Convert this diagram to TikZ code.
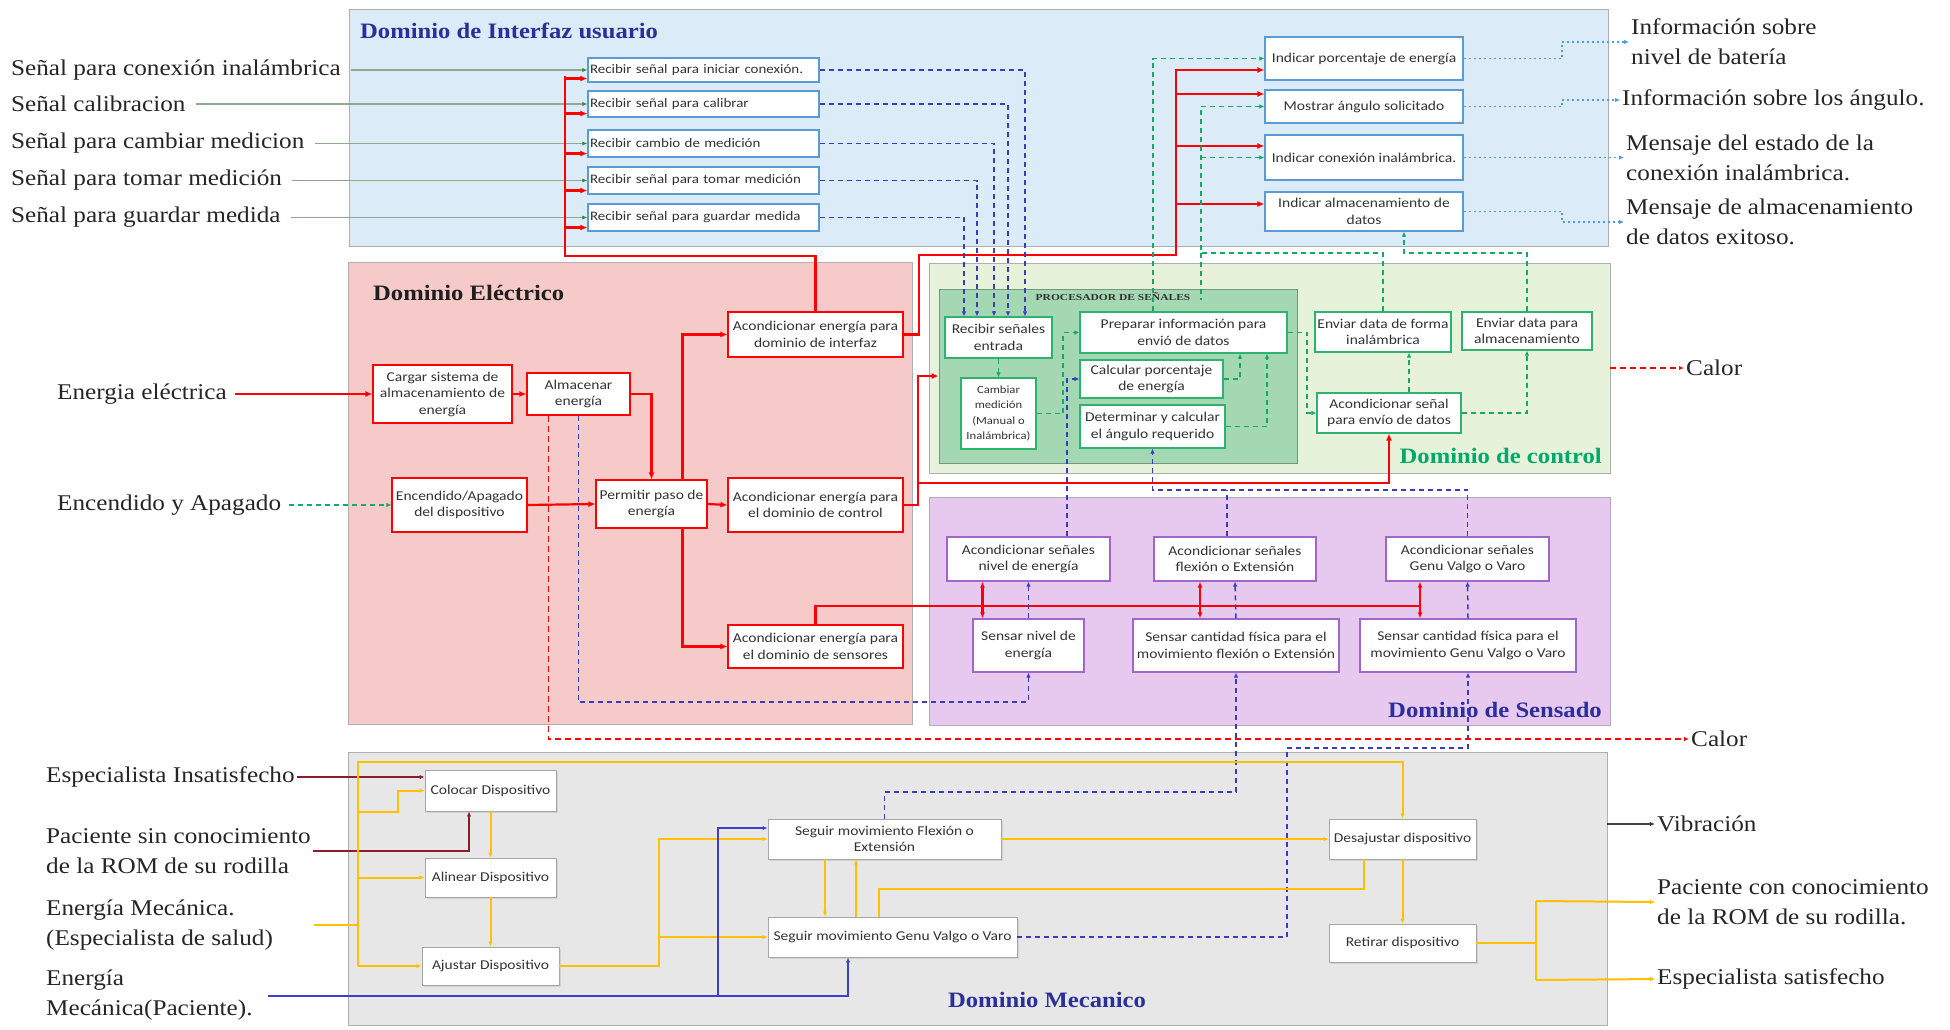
\documentclass[tikz,border=0pt]{standalone}
\usepackage{fontspec}
\setmainfont[FakeStretch=1.12]{Liberation Serif}
\newfontfamily\boxfont[FakeStretch=1.15]{Carlito}
\newfontfamily\procfont[FakeStretch=1.25]{Liberation Serif}
\usetikzlibrary{arrows.meta,shadows}
\definecolor{uifill}{HTML}{DCEBF8}
\definecolor{elfill}{HTML}{F7CACA}
\definecolor{ctfill}{HTML}{E6F2DA}
\definecolor{prfill}{HTML}{A4D8B3}
\definecolor{sefill}{HTML}{E7C9F0}
\definecolor{mefill}{HTML}{E7E7E7}
\definecolor{domline}{HTML}{AFAFAF}
\definecolor{uiblue}{HTML}{5B9BD5}
\definecolor{myred}{HTML}{FF0000}
\definecolor{ctgreen}{HTML}{2DB36E}
\definecolor{sepurple}{HTML}{A066CC}
\definecolor{megray}{HTML}{A6A6A6}
\definecolor{titblue}{HTML}{2B2F9A}
\definecolor{titgreen}{HTML}{00A86B}
\definecolor{titdark}{HTML}{1F1F1F}
\definecolor{dblue}{HTML}{3B3BBE}
\definecolor{dgreen}{HTML}{16A866}
\definecolor{lblue}{HTML}{4A9DE0}
\definecolor{myyellow}{HTML}{FFC000}
\definecolor{dred}{HTML}{8E1B2A}
\definecolor{bsolid}{HTML}{3F3FCC}
\definecolor{inlcol}{HTML}{8FA88F}
\definecolor{arrgreen}{HTML}{2E8B2E}
\definecolor{boxtext}{HTML}{333333}
\definecolor{labtext}{HTML}{262626}
\newcommand\bxfs{\boxfont\fontsize{13.5}{16.5}\selectfont}
\newcommand\uifs{\boxfont\fontsize{13}{16}\selectfont}
\newcommand\smfs{\boxfont\fontsize{11}{15.5}\selectfont}
\newcommand\labfs{\fontsize{22.5}{30}\selectfont}
\newcommand\ttlfs{\bfseries\fontsize{22}{26}\selectfont}
\newcommand\placebox[7]{%
  \pgfmathsetmacro\bxW{#5-#3}%
  \pgfmathsetmacro\bxH{#6-#4}%
  \node[#2, minimum width=\bxW pt, minimum height=\bxH pt] (#1) at ({(#3+#5)/2},{(#4+#6)/2}) {#7};}
\tikzset{
  dom/.style={draw=domline, line width=0.8pt, inner sep=0pt},
  basebox/.style={fill=white, line width=1.1pt, inner sep=1pt, font=\bxfs, text=boxtext, align=center},
  uiL/.style={basebox, draw=uiblue, font=\uifs, text width=227pt, inner xsep=2pt, align=left},
  uiR/.style={basebox, draw=uiblue},
  elb/.style={basebox, draw=myred},
  ctb/.style={basebox, draw=ctgreen},
  seb/.style={basebox, draw=sepurple},
  meb/.style={basebox, draw=megray, line width=0.9pt, drop shadow={shadow xshift=1.5pt, shadow yshift=-1.5pt, fill=black!25}},
  lab/.style={font=\labfs, text=labtext, inner sep=2pt, align=left},
  ttl/.style={font=\ttlfs, inner sep=1pt},
  rarr/.style={->, >={Latex[length=7pt,width=6pt]}},
  sarr/.style={->, >={Latex[length=5pt,width=4.5pt]}},
  rbi/.style={<->, >={Latex[length=6pt,width=5pt]}},
  redl/.style={draw=myred, line width=2.2pt},
  bdash/.style={draw=dblue, line width=1.5pt, dash pattern=on 5pt off 4pt, sarr},
  gdash/.style={draw=dgreen, line width=1.4pt, dash pattern=on 5pt off 4pt, sarr},
  ldot/.style={draw=lblue, line width=1.8pt, dash pattern=on 2pt off 3pt, sarr},
  rdash/.style={draw=myred, line width=1.8pt, dash pattern=on 6pt off 4pt, sarr},
  ylw/.style={draw=myyellow, line width=2pt},
  inl/.style={draw=inlcol, line width=1.1pt, -{Latex[length=5pt,width=4pt,color=arrgreen]}},
}
\begin{document}
\begin{tikzpicture}[x=1pt,y=-1pt]
\useasboundingbox (0,0) rectangle (1950,1029);
\fill[white] (0,0) rectangle (1950,1029);

% ---------- domains ----------
\placebox{uidom}{dom, fill=uifill}{349}{9}{1608}{246}{}
\placebox{eldom}{dom, fill=elfill}{348}{262}{912}{724}{}
\placebox{ctdom}{dom, fill=ctfill}{929}{263}{1610}{473}{}
\placebox{proc}{dom, fill=prfill, draw=prfill!70!black}{939}{289}{1297}{463}{}
\placebox{sedom}{dom, fill=sefill}{929}{497}{1610}{725}{}
\placebox{medom}{dom, fill=mefill}{348}{752}{1607}{1025}{}

\node[ttl, text=titblue, anchor=west] (tui) at (359,31) {Dominio de Interfaz usuario};
\node[ttl, text=titdark, anchor=west] (tel) at (372,293) {Dominio Eléctrico};
\node[ttl, text=titgreen, anchor=east] (tct) at (1603,456) {Dominio de control};
\node[ttl, text=titblue, anchor=east] (tse) at (1603,710) {Dominio de Sensado};
\node[ttl, text=titblue] (tme) at (1047,1000) {Dominio Mecanico};
\node[font=\procfont\bfseries\fontsize{9.2}{10}\selectfont, text=boxtext, inner sep=0pt] (tpr) at (1113,297) {PROCESADOR DE SEÑALES};

% ---------- UI boxes ----------
\placebox{r1}{uiL}{588}{58}{819}{82}{Recibir señal para iniciar conexión.}
\placebox{r2}{uiL}{588}{91}{819}{117}{Recibir señal para calibrar}
\placebox{r3}{uiL}{588}{130}{819}{157}{Recibir cambio de medición}
\placebox{r4}{uiL}{588}{167}{819}{194}{Recibir señal para tomar medición}
\placebox{r5}{uiL}{588}{204}{819}{231}{Recibir señal para guardar medida}
\placebox{i1}{uiR}{1265}{37}{1463}{80}{Indicar porcentaje de energía}
\placebox{i2}{uiR}{1265}{90}{1463}{123}{Mostrar ángulo solicitado}
\placebox{i3}{uiR}{1265}{135}{1463}{180}{Indicar conexión inalámbrica.}
\placebox{i4}{uiR}{1265}{192}{1463}{231}{Indicar almacenamiento de\\datos}

% ---------- electric boxes ----------
\placebox{csa}{elb}{373}{365}{512}{423}{Cargar sistema de\\almacenamiento de\\energía}
\placebox{ae}{elb}{527}{373}{630}{415}{Almacenar\\energía}
\placebox{ed}{elb}{392}{478}{527}{532}{Encendido/Apagado\\del dispositivo}
\placebox{ppe}{elb}{596}{480}{707}{528}{Permitir paso de\\energía}
\placebox{aie}{elb}{728}{312}{903}{357}{Acondicionar energía para\\dominio de interfaz}
\placebox{aic}{elb}{728}{478}{903}{532}{Acondicionar energía para\\el dominio de control}
\placebox{ais}{elb}{728}{625}{903}{668}{Acondicionar energía para\\el dominio de sensores}

% ---------- control boxes ----------
\placebox{rse}{ctb}{945}{317}{1052}{358}{Recibir señales\\entrada}
\placebox{cm}{ctb, font=\smfs}{961}{378}{1036}{449}{Cambiar\\medición\\(Manual o\\Inalámbrica)}
\placebox{pia}{ctb}{1080}{312}{1287}{353}{Preparar información para\\envió de datos}
\placebox{cpe}{ctb}{1080}{360}{1223}{398}{Calcular porcentaje\\de energía}
\placebox{dca}{ctb}{1080}{405}{1225}{448}{Determinar y calcular\\el ángulo requerido}
\placebox{ewi}{ctb}{1315}{312}{1451}{352}{Enviar data de forma\\inalámbrica}
\placebox{ea}{ctb}{1462}{312}{1592}{350}{Enviar data para\\almacenamiento}
\placebox{asd}{ctb}{1317}{393}{1461}{433}{Acondicionar señal\\para envío de datos}

% ---------- sensing boxes ----------
\placebox{acn}{seb}{947}{537}{1110}{581}{Acondicionar señales\\nivel de energía}
\placebox{acf}{seb}{1154}{537}{1316}{581}{Acondicionar señales\\flexión o Extensión}
\placebox{acg}{seb}{1386}{537}{1549}{581}{Acondicionar señales\\Genu Valgo o Varo}
\placebox{sne}{seb}{973}{619}{1084}{672}{Sensar nivel de\\energía}
\placebox{scf}{seb}{1133}{619}{1339}{672}{Sensar cantidad física para el\\movimiento flexión o Extensión}
\placebox{scg}{seb}{1360}{619}{1576}{672}{Sensar cantidad física para el\\movimiento Genu Valgo o Varo}

% ---------- mechanical boxes ----------
\placebox{cd}{meb}{425}{770}{556}{811}{Colocar Dispositivo}
\placebox{ad}{meb}{425}{858}{556}{897}{Alinear Dispositivo}
\placebox{ajd}{meb}{422}{947}{559}{985}{Ajustar Dispositivo}
\placebox{sfe}{meb}{768}{819}{1001}{859}{Seguir movimiento Flexión o\\Extensión}
\placebox{sgv}{meb}{768}{917}{1017}{957}{Seguir movimiento Genu Valgo o Varo}
\placebox{dd}{meb}{1329}{819}{1476}{859}{Desajustar dispositivo}
\placebox{rd}{meb}{1329}{924}{1476}{962}{Retirar dispositivo}

% ---------- outside labels ----------
\node[lab, anchor=west] (l1) at (9,70) {Señal para conexión inalámbrica};
\node[lab, anchor=west] (l2) at (9,104) {Señal calibracion};
\node[lab, anchor=west] (l3) at (9,143.5) {Señal para cambiar medicion};
\node[lab, anchor=west] (l4) at (9,180.5) {Señal para tomar medición};
\node[lab, anchor=west] (l5) at (9,217.5) {Señal para guardar medida};
\node[lab, anchor=west] (lee) at (55,394) {Energia eléctrica};
\node[lab, anchor=west] (lea) at (55,505) {Encendido y Apagado};
\node[lab, anchor=west] (lmi) at (44,777) {Especialista Insatisfecho};
\node[lab, anchor=west] (lps) at (44,851) {Paciente sin conocimiento\\de la ROM de su rodilla};
\node[lab, anchor=west] (lme) at (44,925) {Energía Mecánica.\\(Especialista de salud)};
\node[lab, anchor=west] (lmp) at (44,995) {Energía\\Mecánica(Paciente).};
\node[lab, anchor=west] (lo1) at (1629,42) {Información sobre\\nivel de batería};
\node[lab, anchor=west] (lo2) at (1620,100) {Información sobre los ángulo.};
\node[lab, anchor=west] (lo3) at (1624,157.5) {Mensaje del estado de la\\conexión inalámbrica.};
\node[lab, anchor=west] (lo4) at (1624,222) {Mensaje de almacenamiento\\de datos exitoso.};
\node[lab, anchor=west] (lc1) at (1684,368) {Calor};
\node[lab, anchor=west] (lc2) at (1689,739) {Calor};
\node[lab, anchor=west] (lvib) at (1655,824) {Vibración};
\node[lab, anchor=west] (lpc) at (1655,902) {Paciente con conocimiento\\de la ROM de su rodilla.};
\node[lab, anchor=west] (les) at (1655,979) {Especialista satisfecho};
\coordinate (yin) at (314,925);
\coordinate (bin) at (268,996);

% ---------- UI input lines ----------
\foreach \a/\b in {l1/r1,l2/r2,l3/r3,l4/r4,l5/r5}
  \draw[inl, shorten <=8pt] (\a.east) -- (\b.west);

% ---------- red power lines ----------
\coordinate (rbus) at (565,256);
\draw[redl, line width=2.6pt] (aie.north) |- (rbus) -- (565,76);
\foreach \n in {r1,r2,r3,r4,r5}
  \draw[redl, rarr] (rbus) |- ([yshift=4pt]\n.south west);
\coordinate (rbus2) at (1176,255);
\draw[redl, line width=2.6pt] (aie.east) -| (919,255) -- (rbus2) -- (1176,70);
\draw[redl, rarr] (rbus2) |- ([yshift=-11.5pt]i1.west);
\draw[redl, rarr] (rbus2) |- ([yshift=12.5pt]i2.west);
\draw[redl, rarr] (rbus2) |- ([yshift=11.5pt]i3.west);
\draw[redl, rarr] (rbus2) |- ([yshift=7.5pt]i4.west);

\draw[redl, rarr, shorten <=6pt] (lee.east) -- (csa.west);
\draw[redl, rarr] (csa.east) -- (ae.west);
\draw[redl, rarr] (ae.east) -| (ppe.north);
\draw[redl, rarr] (ed.east) -- (ppe.west);
\draw[redl, rarr] (ppe.east) -- (aic.west);
\draw[redl, rarr] ([xshift=31pt]ppe.north) |- (aie.west);
\draw[redl, rarr] ([xshift=31pt]ppe.south) |- (ais.west);
\draw[redl, rarr] (aic.east) -| (918,376) -- (proc.west);
\draw[redl, rarr] (918,483) -| (asd.south);
\draw[redl, line width=2.6pt] (ais.north) |- (1420,606);
\draw[redl, rbi] ([xshift=-46pt]acn.south) -- ([xshift=-46pt]sne.north);
\draw[redl, rbi] ([xshift=-35pt]acf.south) -- ([xshift=-36pt]scf.north);
\draw[redl, rbi] ([xshift=-47.5pt]acg.south) -- ([xshift=-48pt]scg.north);

% ---------- green on/off ----------
\draw[gdash, shorten <=6pt] (lea.east) -- (ed.west);

% ---------- blue dashed UI -> processor ----------
\draw[bdash] (r1.east) -| ([xshift=26.5pt]rse.north);
\draw[bdash] (r2.east) -| ([xshift=9.5pt]rse.north);
\draw[bdash] (r3.east) -| ([xshift=-4.5pt]rse.north);
\draw[bdash] (r4.east) -| ([xshift=-21.5pt]rse.north);
\draw[bdash] (r5.east) -| ([xshift=-34.5pt]rse.north);

% ---------- UI outputs ----------
\draw[ldot] (i1.east) -- (1562,58.5) |- (lo1.west);
\draw[ldot] (i2.east) -- (1562,106.5) |- (lo2.west);
\draw[ldot] (i3.east) -- (lo3.west);
\draw[ldot] (i4.east) -- (1562,211.5) |- (lo4.west);

% ---------- green dashed control ----------
\coordinate (gj) at (1201,253);
\draw[gdash] ([xshift=-30.5pt]pia.north) |- (i1.west);
\draw[gdash] (ewi.north) |- (gj) |- (i2.west);
\draw[gdash] (1201,157.5) -- (i3.west);
\draw[gdash, -] (gj) -- (1201,300);
\draw[gdash] (ea.north) |- (1404,253) -- ([xshift=40pt]i4.south);
\draw[gdash] (rse.south) -- (cm.north);
\draw[gdash] (cm.east) -- (1063,413.5) |- (pia.west);
\draw[gdash] (cpe.east) -| ([xshift=56.5pt]pia.south);
\draw[gdash] (dca.east) -| ([xshift=83.5pt]pia.south);
\draw[gdash] (pia.east) -- (1307,332.5) |- (asd.west);
\draw[gdash] ([xshift=20pt]asd.north) -- ([xshift=26pt]ewi.south);
\draw[gdash] (asd.east) -| (ea.south);

% ---------- blue dashed sensing ----------
\draw[bdash] ([xshift=38.5pt]acn.north) |- (cpe.west);
\draw[bdash] (acg.north) |- (1152.5,490) -- (dca.south);
\draw[bdash, -] ([xshift=-8pt]acf.north) -- (1227,490);
\draw[bdash] (sne.north) -- (acn.south);
\draw[bdash] (scf.north) -- (acf.south);
\draw[bdash] (scg.north) -- (acg.south);
\draw[bdash] (ae.south) -- (578.5,702) -| (sne.south);
\draw[bdash] (sfe.north) |- (1236,792) -- (scf.south);
\draw[bdash] (sgv.east) -| (1287,748) -| (scg.south);

% ---------- heat ----------
\draw[rdash] (ctdom.east) -- (lc1.west);
\draw[rdash] ([xshift=-30pt]ae.south) |- (lc2.west);

% ---------- mechanical ----------
\draw[dred, line width=1.6pt, sarr] (lmi.east) -- ([yshift=13.5pt]cd.west);
\draw[dred, line width=1.6pt, sarr] (lps.east) -| ([xshift=-21.5pt]cd.south);
\draw[ylw] (yin) -- (358,925);
\draw[ylw, sarr] (358,966) -- (358,762) -| (dd.north);
\draw[ylw, sarr] (358,812) -| (398,790.5) -- (cd.west);
\draw[ylw, sarr] (358,877.5) -- (ad.west);
\draw[ylw, sarr] (358,966) -- (ajd.west);
\draw[ylw, sarr] (cd.south) -- (ad.north);
\draw[ylw, sarr] (ad.south) -- (ajd.north);
\draw[ylw, sarr] (ajd.east) -| (659,839) -- (sfe.west);
\draw[ylw, sarr] (659,937) -- (sgv.west);
\draw[ylw, sarr] ([xshift=-59.5pt]sfe.south) -- ([xshift=-67.5pt]sgv.north);
\draw[ylw, sarr] ([xshift=-36.5pt]sgv.north) -- ([xshift=-28.5pt]sfe.south);
\draw[ylw] ([xshift=-13.5pt]sgv.north) |- (1363.5,889) -- ([xshift=-39pt]dd.south);
\draw[ylw, sarr] (sfe.east) -- (dd.west);
\draw[ylw, sarr] (dd.south) -- (rd.north);
\draw[ylw] (rd.east) -- (1536,943);
\draw[ylw] (1536,901) -- (1536,980);
\draw[ylw, sarr] (1536,901) -- (lpc.west);
\draw[ylw, sarr] (1536,980) -- (les.west);
\draw[bsolid, line width=1.6pt, sarr] (bin) -| ([xshift=-44.5pt]sgv.south);
\draw[bsolid, line width=1.6pt, sarr] (718,996) |- ([yshift=11pt]sfe.west);
\draw[black!75, line width=1.8pt, sarr] ([yshift=64.5pt]medom.east) -- (lvib.west);
\end{tikzpicture}
\end{document}
